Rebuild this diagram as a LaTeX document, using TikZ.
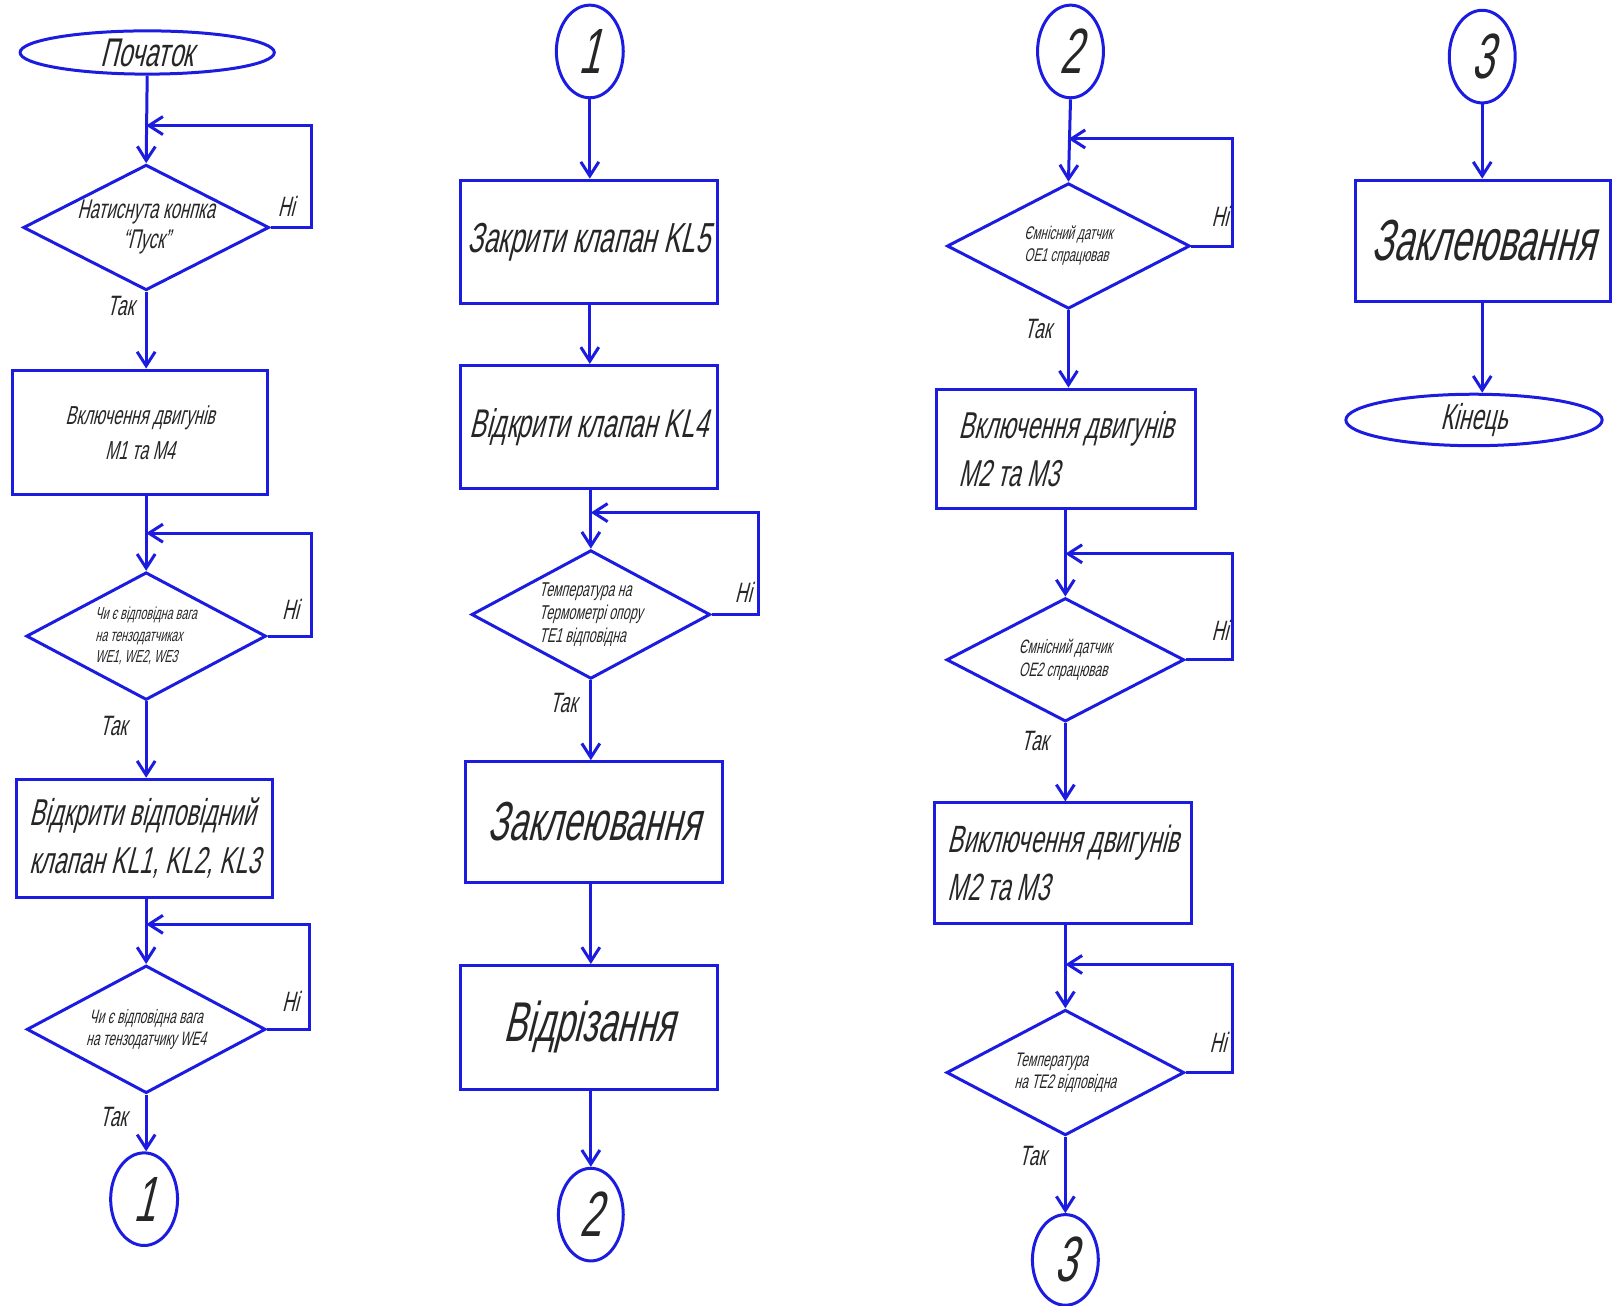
\documentclass[tikz,border=0pt]{standalone}
\usepackage{fontspec}
\usetikzlibrary{shapes.geometric,arrows.meta,calc}
\newfontfamily\gostfont{Liberation Sans}[FakeSlant=0.25,FakeStretch=0.62]
\definecolor{lineblue}{RGB}{28,28,224}
\newcommand{\upx}{0.5147pt}
\newcommand{\fs}[2]{\fontsize{#1}{#2}\selectfont}

\begin{document}
\begin{tikzpicture}[x=0.5147pt,y=-0.5147pt,
  every node/.style={text=black!85},
  sz/.style 2 args={minimum width=#1*\upx, minimum height=#2*\upx},
  blk/.style={draw=lineblue, line width=1.5pt, inner sep=1pt},
  procbox/.style={blk, rectangle},
  decbox/.style={blk, diamond, aspect=2, inner sep=0pt},
  termbox/.style={blk, ellipse, inner sep=0pt},
  arr/.style={draw=lineblue, line width=1.5pt,
    -{Straight Barb[length=7pt,width=9pt,line width=1.5pt]}},
  ans/.style={font=\gostfont\fs{14}{16}}]

\useasboundingbox (0,0) rectangle (1568,1268);

% ---------------- column 1 ----------------
\node[termbox, sz={247}{42}, font=\gostfont\fs{20}{22}] (start) at (143,51) {Початок};
\node[decbox, sz={233}{122}, align=center, font=\gostfont\fs{13.5}{15}] (d1) at (142,221)
  {Натиснута конпка\\“Пуск”};
\node[procbox, sz={247}{121}, align=center, font=\gostfont\fs{13}{17.5}] (r1) at (136,420)
  {Включення двигунів\\М1 та М4};
\node[decbox, sz={233}{124}, align=left, font=\gostfont\fs{8.7}{10.8}] (d2) at (142,618)
  {Чи є відповідна вага\\на тензодатчиках\\WE1, WE2, WE3};
\node[procbox, sz={249}{115}, align=left, font=\gostfont\fs{18.7}{24}] (r2) at (140.5,814.5)
  {Відкрити відповідний\\клапан KL1, KL2, KL3};
\node[decbox, sz={232}{124}, align=center, font=\gostfont\fs{9.7}{11}] (d3) at (142,1000)
  {Чи є відповідна вага\\на тензодатчику WE4};
\node[termbox, sz={65}{90}, font=\gostfont\fs{32}{34}] (k1b) at (140,1165) {1};

\coordinate (j1) at (142,122);  \coordinate (e1) at (303,122);
\coordinate (j2) at (142,518);  \coordinate (e2) at (303,518);
\coordinate (j3) at (142,898);  \coordinate (e3) at (301,898);

\draw[arr] (start.south) -- (d1.north);
\draw[arr] (d1.east) -| (e1) -- (j1);
\draw[arr] (d1.south) -- (d1.south |- r1.north);
\draw[arr] (d1.south |- r1.south) -- (d2.north);
\draw[arr] (d2.east) -| (e2) -- (j2);
\draw[arr] (d2.south) -- (d2.south |- r2.north);
\draw[arr] (d2.south |- r2.south) -- (d3.north);
\draw[arr] (d3.east) -| (e3) -- (j3);
\draw[arr] (d3.south) -- (d3.south |- k1b.north);

\node[ans] (n1) at (278,200) {Ні};
\node[ans] (y1) at (117,297) {Так};
\node[ans] (n2) at (282,592) {Ні};
\node[ans] (y2) at (110,705) {Так};
\node[ans] (n3) at (282,973) {Ні};
\node[ans] (y3) at (110,1085) {Так};

% ---------------- column 2 ----------------
\node[termbox, sz={65}{90}, font=\gostfont\fs{32}{34}] (k1a) at (573,50) {1};
\node[procbox, sz={250}{120}, font=\gostfont\fs{21}{24}] (r3) at (572,235) {Закрити клапан KL5};
\node[procbox, sz={250}{120}, font=\gostfont\fs{20}{24}] (r4) at (572,415) {Відкрити клапан KL4};
\node[decbox, sz={232}{125}, align=left, font=\gostfont\fs{10}{11.5}] (d4) at (574,597)
  {Температура на\\Термометрі опору\\ТЕ1 відповідна};
\node[procbox, sz={250}{117}, font=\gostfont\fs{27.5}{30}] (r5) at (577,798.5) {Заклеювання};
\node[procbox, sz={250}{120}, font=\gostfont\fs{28}{30}] (r6) at (572,998) {Відрізання};
\node[termbox, sz={63}{90}, font=\gostfont\fs{32}{34}] (k2b) at (574,1180) {2};

\coordinate (j4) at (574,498);  \coordinate (e4) at (737,498);

\draw[arr] (k1a.south) -- (k1a.south |- r3.north);
\draw[arr] (k1a.south |- r3.south) -- (k1a.south |- r4.north);
\draw[arr] (d4.north |- r4.south) -- (d4.north);
\draw[arr] (d4.east) -| (e4) -- (j4);
\draw[arr] (d4.south) -- (d4.south |- r5.north);
\draw[arr] (d4.south |- r5.south) -- (d4.south |- r6.north);
\draw[arr] (k2b.north |- r6.south) -- (k2b.north);

\node[ans] (n4) at (722,575) {Ні};
\node[ans] (y4) at (547,683) {Так};

% ---------------- column 3 ----------------
\node[termbox, sz={64}{90}, font=\gostfont\fs{32}{34}] (k2a) at (1040,50) {2};
\node[decbox, sz={236}{122}, align=left, font=\gostfont\fs{9.2}{11}] (d5) at (1038,239)
  {Ємнісний датчик\\ОЕ1 спрацював};
\node[procbox, sz={251}{116}, align=left, font=\gostfont\fs{18.7}{24}] (r7) at (1035.5,436)
  {Включення двигунів\\М2 та М3};
\node[decbox, sz={231}{120}, align=left, font=\gostfont\fs{9.7}{11.5}] (d6) at (1035,641)
  {Ємнісний датчик\\ОЕ2 спрацював};
\node[procbox, sz={250}{117}, align=left, font=\gostfont\fs{19}{24}] (r8) at (1033,838.5)
  {Виключення двигунів\\М2 та М3};
\node[decbox, sz={231}{122}, align=left, font=\gostfont\fs{9.8}{11}] (d7) at (1035,1042)
  {Температура\\на ТЕ2 відповідна};
\node[termbox, sz={64}{88}, font=\gostfont\fs{32}{34}] (k3b) at (1035,1224) {3};

\coordinate (j5) at (1038,135);  \coordinate (e5) at (1197,135);
\coordinate (j6) at (1035,538);  \coordinate (e6) at (1197,538);
\coordinate (j7) at (1035,937);  \coordinate (e7) at (1197,937);

\draw[arr] (k2a.south) -- (d5.north);
\draw[arr] (d5.east) -| (e5) -- (j5);
\draw[arr] (d5.south) -- (d5.south |- r7.north);
\draw[arr] (d6.north |- r7.south) -- (d6.north);
\draw[arr] (d6.east) -| (e6) -- (j6);
\draw[arr] (d6.south) -- (d6.south |- r8.north);
\draw[arr] (d7.north |- r8.south) -- (d7.north);
\draw[arr] (d7.east) -| (e7) -- (j7);
\draw[arr] (d7.south) -- (k3b.north);

\node[ans] (n5) at (1185,210) {Ні};
\node[ans] (y5) at (1008,320) {Так};
\node[ans] (n6) at (1185,612) {Ні};
\node[ans] (y6) at (1005,720) {Так};
\node[ans] (n7) at (1183,1013) {Ні};
\node[ans] (y7) at (1003,1123) {Так};

% ---------------- column 4 ----------------
\node[termbox, sz={64}{90}, font=\gostfont\fs{32}{34}] (k3a) at (1440,55) {3};
\node[procbox, sz={248}{118}, font=\gostfont\fs{29}{31}] (r9) at (1441,234) {Заклеювання};
\node[termbox, sz={249}{50}, font=\gostfont\fs{18}{20}] (finish) at (1432,408) {Кінець};

\draw[arr] (k3a.south) -- (k3a.south |- r9.north);
\draw[arr] (k3a.south |- r9.south) -- (k3a.south |- finish.north);

\end{tikzpicture}
\end{document}
